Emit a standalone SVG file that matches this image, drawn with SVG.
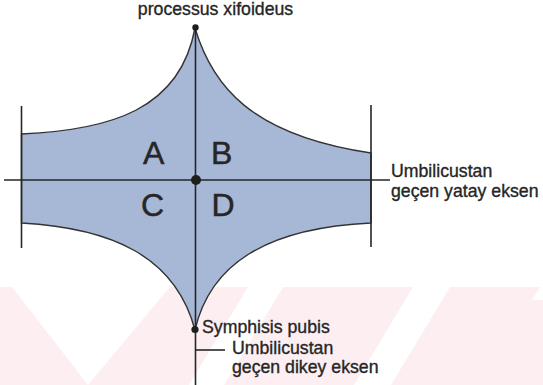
<svg xmlns="http://www.w3.org/2000/svg" width="543" height="385" viewBox="0 0 543 385">
<style>
.lbl{font-family:"Liberation Sans",Arial,sans-serif;font-size:17.7px;fill:#262626;stroke:#262626;stroke-width:0.35}
.quad{font-family:"Liberation Sans",Arial,sans-serif;font-size:32px;fill:#262626;stroke:#262626;stroke-width:0.5}
.ax{stroke:#262626;stroke-width:1.6;fill:none}
.dot{fill:#1e1e1e}
</style>
<rect width="543" height="385" fill="#ffffff"/>
<g id="watermark">
<rect x="0" y="287" width="543" height="98" fill="#fdeff1"/>
<polygon points="12,287 170,287 88,385" fill="#ffffff"/>
<polygon points="248,287 283,287 224,385 189,385" fill="#ffffff"/>
<polygon points="413,287 450,287 391,385 354,385" fill="#ffffff"/>
<polygon points="540,287 543,287 543,300 532,300" fill="#ffffff"/>
</g>
<g id="abdomen">
<path d="M21.5 134 C110 130 180 110 195 28 C212 85 250 135 371 153 L371 223 C265 228 210 265 195 330 C175 255 110 228 21.5 223 Z" fill="#a7b8d6" stroke="#333" stroke-width="1.4"/>
</g>
<g id="connectors">
<line class="ax" x1="195.5" y1="28" x2="195.5" y2="385"/>
<line class="ax" x1="4" y1="180" x2="390" y2="180"/>
<line class="ax" x1="21.5" y1="106" x2="21.5" y2="248"/>
<line class="ax" x1="371" y1="105" x2="371" y2="247"/>
<line class="ax" x1="195.5" y1="350" x2="225" y2="350"/>
</g>
<g id="points">
<circle class="dot" cx="195.5" cy="27.5" r="3.2"/>
<circle class="dot" cx="196" cy="180" r="5"/>
<circle class="dot" cx="195" cy="329.5" r="3.6"/>
</g>
<g id="quadrants">
<text class="quad" x="143" y="164">A</text>
<text class="quad" x="211" y="164">B</text>
<text class="quad" x="141" y="216">C</text>
<text class="quad" x="211.5" y="216">D</text>
</g>
<g id="labels">
<text class="lbl" x="215.5" y="15" text-anchor="middle">processus xifoideus</text>
<text class="lbl" x="391" y="177">Umbilicustan</text>
<text class="lbl" x="391" y="197">geçen yatay eksen</text>
<text class="lbl" x="202" y="333">Symphisis pubis</text>
<text class="lbl" x="232" y="354">Umbilicustan</text>
<text class="lbl" x="232" y="373">geçen dikey eksen</text>
</g>
</svg>
